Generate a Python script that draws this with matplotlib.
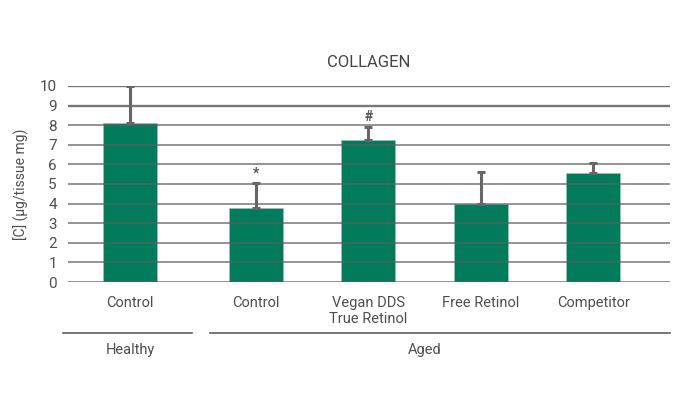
import matplotlib.pyplot as plt

groups = ['Healthy', 'Aged']
categories = ['Control', 'Control', 'Vegan DDS\nTrue Retinol', 'Free Retinol', 'Competitor']
values = [8.1, 3.75, 7.25, 4.0, 5.55]
errors = [1.9, 1.3, 0.68, 1.6, 0.52]
marks = ['', '*', '#', '', '']

plt.rcParams['font.family'] = ['Roboto', 'DejaVu Sans']
GREEN = '#007b5b'
GRAY = '#5f5f5f'
TXT = '#4f4f4f'

fig = plt.figure(figsize=(6.91, 4.05), dpi=100)
ax = fig.add_axes([0.0984, 0.3037, 0.8712, 0.4840])

pos = [0, 1.12, 2.12, 3.12, 4.12]
ax.bar(pos, values, width=0.48, color=GREEN, edgecolor='#9fbfae', linewidth=0.6, zorder=2)
ax.errorbar(pos, values, yerr=[[0] * len(errors), errors], fmt='none',
            ecolor='#666666', elinewidth=2.2, capsize=3, capthick=2.2, zorder=4)
for p, v, e, m in zip(pos, values, errors, marks):
    if m:
        ax.text(p, v + e + 0.12, m, ha='center', va='bottom', fontsize=10,
                fontweight='bold', color='#555555')

for y in range(0, 11):
    lw = 1.7 if y >= 9 else 1.1
    ax.axhline(y, color=GRAY, lw=lw, alpha=0.85, zorder=3)

ax.set_xlim(-0.551, 4.8)
ax.set_ylim(0, 10)
ax.set_yticks(range(0, 11))
ax.tick_params(axis='y', length=0, pad=8, labelsize=11, labelcolor=TXT)
ax.set_xticks(pos)
ax.set_xticklabels(categories, fontsize=10.5, color=TXT, linespacing=1.2)
ax.tick_params(axis='x', length=0, pad=10)
for s in ax.spines.values():
    s.set_visible(False)

ax.set_ylabel('[C] (µg/tissue mg)', fontsize=10, color=TXT, labelpad=8)
ax.set_title('COLLAGEN', fontsize=12, color='#444444', pad=14)

# group brackets below the category labels
tr = ax.get_xaxis_transform()
ax.plot([-0.596, 0.551], [-0.26, -0.26], color=GRAY, lw=1.2, transform=tr, clip_on=False)
ax.plot([0.711, 4.8], [-0.26, -0.26], color=GRAY, lw=1.2, transform=tr, clip_on=False)
ax.text(0, -0.31, groups[0], transform=tr, ha='center', va='top', fontsize=10.5, color=TXT)
ax.text(2.62, -0.31, groups[1], transform=tr, ha='center', va='top', fontsize=10.5, color=TXT)

fig.savefig('out.png', dpi=100)
